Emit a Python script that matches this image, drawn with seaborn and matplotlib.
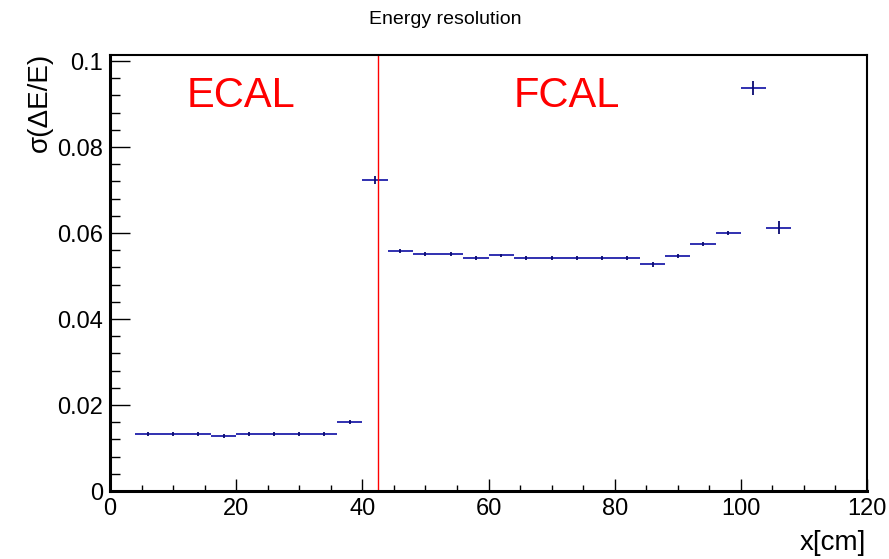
import numpy as np
import pandas as pd
import matplotlib
matplotlib.use("Agg")
import matplotlib.pyplot as plt
import seaborn as sns
from matplotlib.ticker import MultipleLocator

# ---- data ----
x_centers = [6, 10, 14, 18, 22, 26, 30, 34, 38, 42, 46, 50, 54, 58, 62,
             66, 70, 74, 78, 82, 86, 90, 94, 98, 102, 106]
x_halfwidth = [2] * 26
sigma = [0.0133, 0.0133, 0.0133, 0.0128, 0.0133, 0.0133, 0.0133, 0.0133,
         0.0160, 0.0723, 0.0558, 0.0551, 0.0551, 0.0542, 0.0548,
         0.0542, 0.0542, 0.0542, 0.0542, 0.0542, 0.0527, 0.0547,
         0.0575, 0.0600, 0.0937, 0.0612]
sigma_err = [0.0004, 0.0004, 0.0004, 0.0004, 0.0004, 0.0004, 0.0004, 0.0004,
             0.0004, 0.0009, 0.0005, 0.0005, 0.0005, 0.0005, 0.0004,
             0.0005, 0.0005, 0.0005, 0.0005, 0.0005, 0.0005, 0.0004,
             0.0005, 0.0005, 0.0017, 0.0015]
boundary_x = 42.5
region_labels = ["ECAL", "FCAL"]
region_label_x = [12.2, 64.0]
region_label_y = 0.0893

df = pd.DataFrame({"x": x_centers, "xerr": x_halfwidth,
                   "y": sigma, "yerr": sigma_err})

sns.set_theme(style="ticks")
plt.rcParams["font.family"] = ["Liberation Sans", "DejaVu Sans"]
plt.rcParams["text.color"] = "black"

fig = plt.figure(figsize=(8.89, 5.59), dpi=100)
ax = fig.add_axes([110 / 889, 1 - 491 / 559, (867 - 110) / 889, (491 - 55) / 559])

# horizontal (bin-width) bars
ax.errorbar(df["x"], df["y"], xerr=df["xerr"],
            fmt="none", ecolor="#2020aa", elinewidth=1.3, capsize=0)
# vertical (statistical) bars
ax.errorbar(df["x"], df["y"], yerr=df["yerr"],
            fmt="none", ecolor="#0a0a70", elinewidth=1.3, capsize=0)

ax.axvline(boundary_x, color="#ff0000", lw=1.0)

for lab, lx in zip(region_labels, region_label_x):
    ax.text(lx, region_label_y, lab, color="#ff0000", fontsize=30,
            ha="left", va="baseline")

ax.set_xlim(0, 120)
ax.set_ylim(0, 0.1014)

ax.xaxis.set_major_locator(MultipleLocator(20))
ax.xaxis.set_minor_locator(MultipleLocator(5))
ax.yaxis.set_major_locator(MultipleLocator(0.02))
ax.yaxis.set_minor_locator(MultipleLocator(0.004))

ax.set_xticks([0, 20, 40, 60, 80, 100, 120])
ax.set_xticklabels(["0", "20", "40", "60", "80", "100", "120"])
ax.set_yticks([0, 0.02, 0.04, 0.06, 0.08, 0.1])
ax.set_yticklabels(["0", "0.02", "0.04", "0.06", "0.08", "0.1"])

ax.tick_params(axis="both", which="both", direction="in", colors="black",
               labelsize=17, width=1.0, top=False, right=False)
ax.tick_params(axis="x", which="major", length=9, pad=5)
ax.tick_params(axis="x", which="minor", length=4.5)
ax.tick_params(axis="y", which="major", length=14.5, pad=5)
ax.tick_params(axis="y", which="minor", length=7.2)

for side in ["left", "bottom"]:
    ax.spines[side].set_linewidth(2.2)
    ax.spines[side].set_color("black")
for side in ["top", "right"]:
    ax.spines[side].set_visible(True)
    ax.spines[side].set_linewidth(1.5)
    ax.spines[side].set_color("black")
ax.set_facecolor("white")
ax.grid(False)

fig.text(445 / 889, 1 - 20 / 559, "Energy resolution", fontsize=14,
         color="black", ha="center", va="center")
fig.text(866 / 889, 1 - 550 / 559, "x[cm]", fontsize=20, color="black",
         ha="right", va="baseline")
fig.text(40 / 889, 1 - 53 / 559, "σ(ΔE/E)", fontsize=20, rotation=90,
         color="black", ha="center", va="top")

fig.savefig("out.png", dpi=100, facecolor="white")
